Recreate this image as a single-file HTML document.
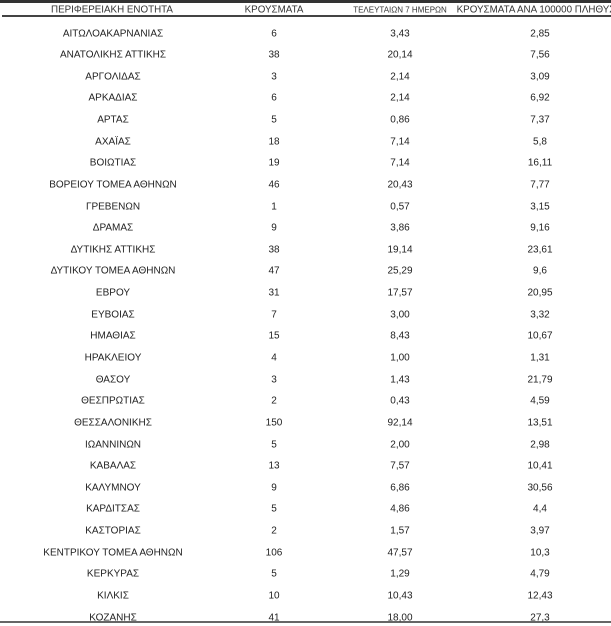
<!DOCTYPE html>
<html><head><meta charset="utf-8"><style>
body{margin:0;width:611px;height:626px;background:#fff;position:relative;overflow:hidden;font-family:"Liberation Sans","DejaVu Sans",sans-serif;color:#222;}
.t{position:absolute;white-space:nowrap;font-size:10px;transform:translate(-50%,-50%);}
.h{font-size:9.8px;color:#333}
</style></head><body>
<div style="position:absolute;left:0;top:0;width:611px;height:3px;background:#333"></div>
<div style="position:absolute;left:2px;top:15px;width:609px;height:2px;background:#444"></div>
<div style="position:absolute;left:0;top:621px;width:611px;height:2px;background:#666"></div>
<div class="t h" style="left:112px;top:10px">ΠΕΡΙΦΕΡΕΙΑΚΗ ΕΝΟΤΗΤΑ</div>
<div class="t h" style="left:274px;top:10px">ΚΡΟΥΣΜΑΤΑ</div>
<div class="t h" style="left:400px;top:10px;font-size:8px">ΤΕΛΕΥΤΑΙΩΝ 7 ΗΜΕΡΩΝ</div>
<div class="t h" style="left:536px;top:10px">ΚΡΟΥΣΜΑΤΑ ΑΝΑ 100000 ΠΛΗΘΥΣ</div>
<div id="rows"></div>
<script>
var d=[["ΑΙΤΩΛΟΑΚΑΡΝΑΝΙΑΣ",6,"3,43","2,85"],["ΑΝΑΤΟΛΙΚΗΣ ΑΤΤΙΚΗΣ",38,"20,14","7,56"],["ΑΡΓΟΛΙΔΑΣ",3,"2,14","3,09"],["ΑΡΚΑΔΙΑΣ",6,"2,14","6,92"],["ΑΡΤΑΣ",5,"0,86","7,37"],["ΑΧΑΪΑΣ",18,"7,14","5,8"],["ΒΟΙΩΤΙΑΣ",19,"7,14","16,11"],["ΒΟΡΕΙΟΥ ΤΟΜΕΑ ΑΘΗΝΩΝ",46,"20,43","7,77"],["ΓΡΕΒΕΝΩΝ",1,"0,57","3,15"],["ΔΡΑΜΑΣ",9,"3,86","9,16"],["ΔΥΤΙΚΗΣ ΑΤΤΙΚΗΣ",38,"19,14","23,61"],["ΔΥΤΙΚΟΥ ΤΟΜΕΑ ΑΘΗΝΩΝ",47,"25,29","9,6"],["ΕΒΡΟΥ",31,"17,57","20,95"],["ΕΥΒΟΙΑΣ",7,"3,00","3,32"],["ΗΜΑΘΙΑΣ",15,"8,43","10,67"],["ΗΡΑΚΛΕΙΟΥ",4,"1,00","1,31"],["ΘΑΣΟΥ",3,"1,43","21,79"],["ΘΕΣΠΡΩΤΙΑΣ",2,"0,43","4,59"],["ΘΕΣΣΑΛΟΝΙΚΗΣ",150,"92,14","13,51"],["ΙΩΑΝΝΙΝΩΝ",5,"2,00","2,98"],["ΚΑΒΑΛΑΣ",13,"7,57","10,41"],["ΚΑΛΥΜΝΟΥ",9,"6,86","30,56"],["ΚΑΡΔΙΤΣΑΣ",5,"4,86","4,4"],["ΚΑΣΤΟΡΙΑΣ",2,"1,57","3,97"],["ΚΕΝΤΡΙΚΟΥ ΤΟΜΕΑ ΑΘΗΝΩΝ",106,"47,57","10,3"],["ΚΕΡΚΥΡΑΣ",5,"1,29","4,79"],["ΚΙΛΚΙΣ",10,"10,43","12,43"],["ΚΟΖΑΝΗΣ",41,"18,00","27,3"]];
var xs=[113,274,400,540],h="";
d.forEach(function(r,i){var y=33.5+i*21.63;r.forEach(function(v,j){h+='<div class="t" style="left:'+xs[j]+'px;top:'+y.toFixed(1)+'px">'+v+'</div>';});});
document.getElementById("rows").innerHTML=h;
</script>
</body></html>
